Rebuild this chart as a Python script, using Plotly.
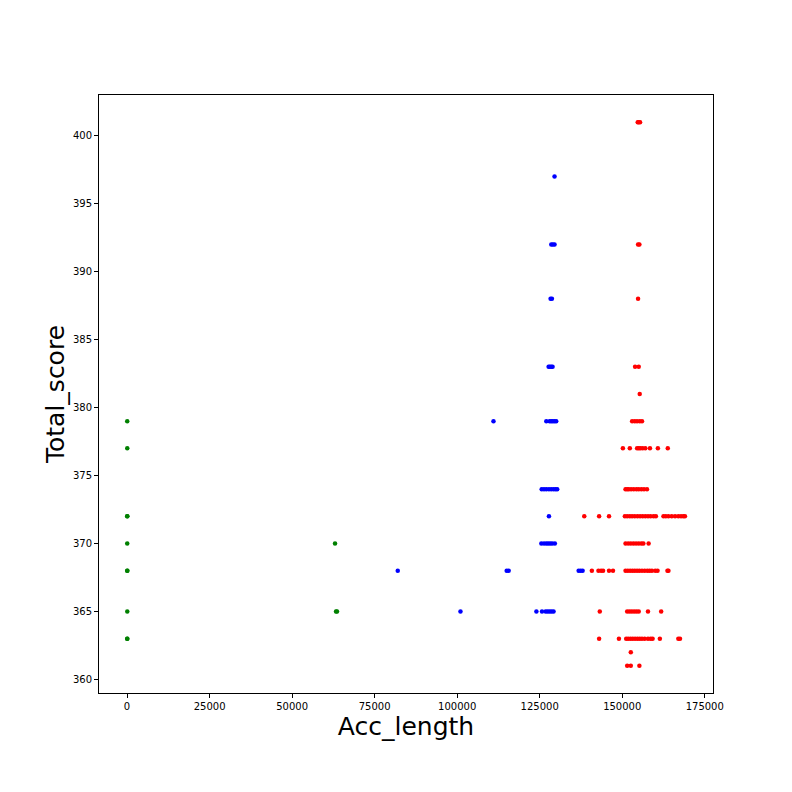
import plotly.graph_objects as go

# (score, acc_length) per group
green_score = [379, 377, 372, 372, 370, 368, 368, 365, 363, 363, 370, 365, 365]
green_len = [50, 60, 40, 80, 50, 40, 90, 60, 40, 80, 63000, 63300, 63600]

blue_score = [397, 392, 392, 392, 388, 388, 383, 383, 383, 383,
              379, 379, 379, 379, 379, 379, 379,
              374, 374, 374, 374, 374, 374, 374, 374,
              372,
              370, 370, 370, 370, 370, 370, 370,
              368, 368, 368, 368, 368, 368,
              365, 365, 365, 365, 365, 365, 365, 365]
blue_len = [129500, 128500, 129000, 129500, 128300, 128700, 127700, 128100, 128500, 128900,
            111000, 127000, 128000, 128500, 129000, 129500, 130000,
            125600, 126300, 127000, 127800, 128500, 129200, 129800, 130300,
            127800,
            125500, 126300, 127000, 127600, 128200, 128800, 129600,
            82000, 115000, 115600, 136800, 137400, 138000,
            101000, 124000, 125700, 126800, 127400, 128000, 128600, 129200]

red_rows = {
    401: [154700, 155000, 155400],
    392: [154800, 155200],
    388: [154800],
    383: [153900, 155000],
    381: [155300],
    379: [153000, 153800, 154500, 155300, 156000],
    377: [150200, 152300, 154500, 155000, 155500, 156200, 157000, 158400, 160800, 163800],
    374: [151000, 151500, 152000, 152700, 153500, 154300, 155000, 155800, 156600, 157500],
    372: [138500, 143000, 146000, 150800, 151500, 152300, 153000, 153800, 154600, 155400,
          156200, 157000, 157800, 158600, 159500, 160200, 162500, 163200, 164000, 165000,
          166000, 167000, 167800, 168500, 169000],
    370: [151000, 151800, 152600, 153400, 154200, 155000, 155800, 156400, 158000],
    368: [140800, 142800, 143600, 144200, 146000, 147200, 151000, 151700, 152400, 153100,
          153800, 154500, 155200, 156000, 156800, 157600, 158300, 159000, 160000, 160700,
          163700, 164000],
    365: [143200, 151500, 152200, 152900, 153600, 154300, 155000, 157800, 161800],
    363: [143000, 149000, 151200, 151800, 152500, 153200, 153900, 154600, 155300, 156000,
          156800, 157800, 158600, 159200, 161400, 167000, 167500],
    362: [152600],
    361: [151500, 152600, 155200],
}
red_score = [s for s, xs in red_rows.items() for _ in xs]
red_len = [x for xs in red_rows.values() for x in xs]

fig = go.Figure()
for xs, ys, c in [(green_len, green_score, "green"), (blue_len, blue_score, "blue"), (red_len, red_score, "red")]:
    fig.add_trace(go.Scatter(x=xs, y=ys, mode="markers", marker=dict(color=c, size=4.5), showlegend=False))

axis = dict(showgrid=False, zeroline=False, showline=True, linecolor="black", mirror=True,
            ticks="outside", tickcolor="black", ticklen=4, tickfont=dict(size=10, color="black"))
fig.update_xaxes(axis, range=[-8500, 177500], tickvals=[0, 25000, 50000, 75000, 100000, 125000, 150000, 175000],
                 tickformat="d",
                 title=dict(text="Acc_length", font=dict(size=25, color="black"), standoff=4))
fig.update_yaxes(axis, range=[359, 403], dtick=5,
                 title=dict(text="Total_score", font=dict(size=25, color="black"), standoff=1))
fig.update_layout(width=792, height=792, plot_bgcolor="white", paper_bgcolor="white",
                  font=dict(family="DejaVu Sans"),
                  margin=dict(l=91, r=87, t=87, b=107))
fig.write_html("out.html")
